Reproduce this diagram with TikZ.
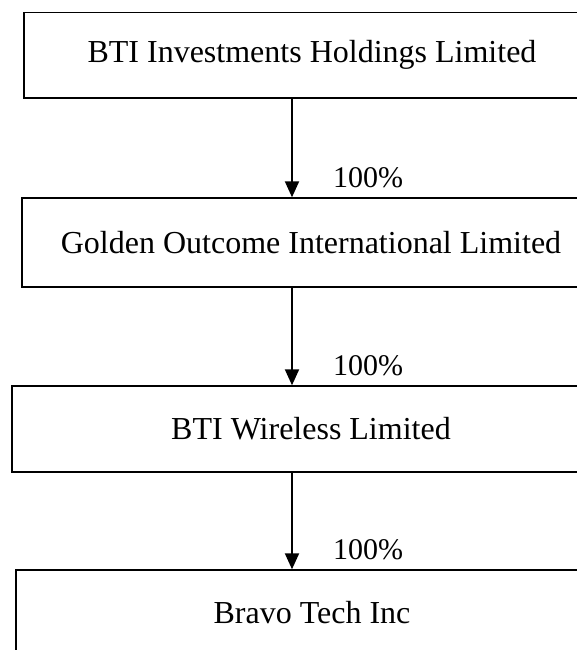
\documentclass[tikz,border=0pt]{standalone}
\usepackage{fontspec}
\setmainfont{Liberation Serif}
\usetikzlibrary{arrows.meta}

\begin{document}
\begin{tikzpicture} [x=1pt, y=-1pt,
	firm/.style={draw, line width=1.4pt, minimum height=85pt, inner sep=0pt,
		font=\fontsize{32}{38}\selectfont},
	share/.style={anchor=base west, inner sep=0pt, font=\fontsize{30}{36}\selectfont},
	own/.style={line width=2pt, -{Triangle[width=14pt,length=16pt]}}]

		\useasboundingbox (0,0) rectangle (576,650);

		% arrows all run down this line
		\coordinate (ax) at (292,0);

		\node[firm, minimum width=576pt, minimum height=85.5pt] (bih) at (312,55.3)%
		{BTI Investments Holdings Limited};

		\node[firm, minimum width=578pt, minimum height=89pt] (goi) at (311,242.5)%
		{Golden Outcome International Limited};

		\node[firm, minimum width=598pt, minimum height=86pt] (btw) at (311,429)%
		{BTI Wireless Limited};

		\node[firm, minimum width=592pt] (bti) at (312,612.5)%
		{Bravo Tech Inc};

		\draw [own] (bih.south -| ax) -- (goi.north -| ax);
		\draw [own] (goi.south -| ax) -- (btw.north -| ax);
		\draw [own] (btw.south -| ax) -- (bti.north -| ax);

		\node[share] (p1) at (333,187) {100\%};
		\node[share] (p2) at (333,375) {100\%};
		\node[share] (p3) at (333,559) {100\%};
	\end{tikzpicture}
\end{document}
